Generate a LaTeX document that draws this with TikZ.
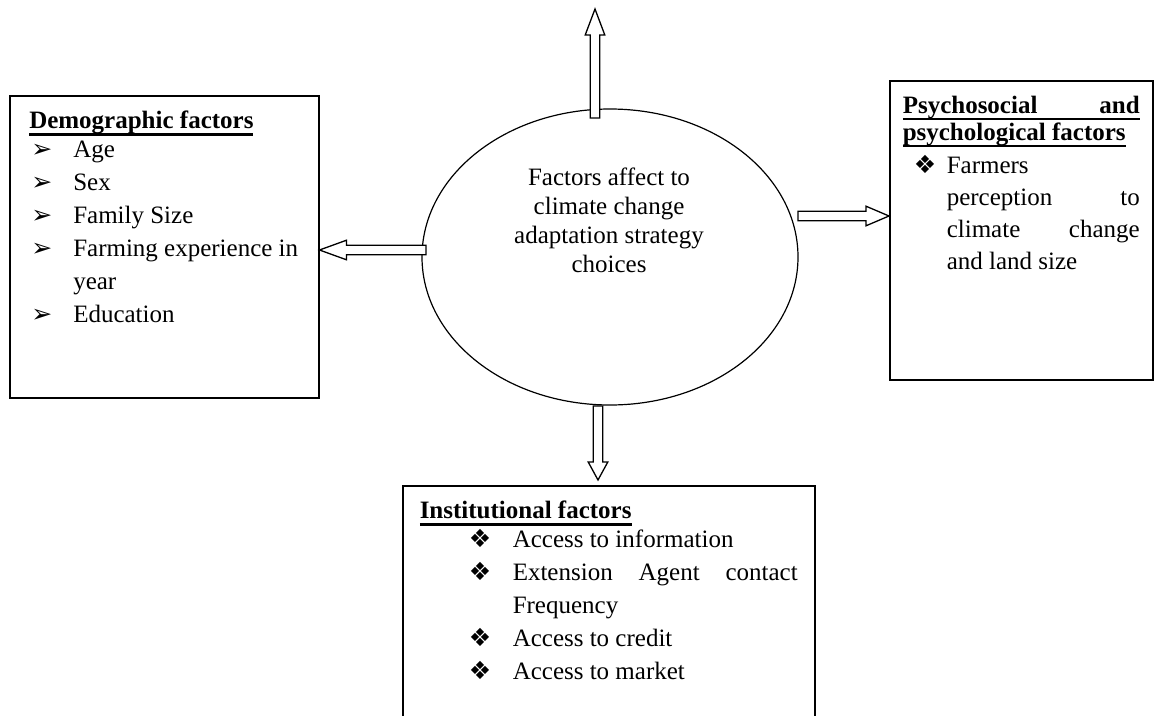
\documentclass[tikz,border=0pt]{standalone}
\usepackage{fontspec}
\setmainfont{Liberation Serif}
\newfontfamily\dingfont{DejaVu Sans}
\usetikzlibrary{shapes.geometric,calc}

\newcommand\bodyfont{\fontsize{25}{33}\selectfont}
\newsavebox\headsave
\newcommand\headline[1]{\leavevmode\sbox\headsave{\textbf{#1}}\rlap{\usebox\headsave}\rule[-6.8pt]{\wd\headsave}{2.6pt}}
\newcommand\arrowbul{{\dingfont\fontsize{25}{25}\selectfont ➢}}
\newcommand\diambul{{\dingfont\fontsize{25}{25}\selectfont ❖}}
% indent, bullet box width, bullet, text
\newcommand\bulitem[4]{\par\hspace*{#1}\makebox[#2][l]{#3}#4}

% hollow block arrow: [head length]{from}{to}
\newcommand\blockarrow[3][24pt]{%
  \coordinate (hb) at ($(#3)!#1!(#2)$);
  \draw[blockarr] ($(#2)!4.8pt!90:(#3)$) -- ($(hb)!4.8pt!-90:(#2)$) -- ($(hb)!9.8pt!-90:(#2)$)
    -- (#3) -- ($(hb)!9.8pt!90:(#2)$) -- ($(hb)!4.8pt!90:(#2)$) -- ($(#2)!4.8pt!-90:(#3)$) -- cycle;}

\begin{document}
\begin{tikzpicture}[x=1pt,y=-1pt]
  \tikzset{
    factorbox/.style={draw,line width=1.5pt,anchor=north west,inner xsep=17pt,inner ysep=15.5pt,font=\bodyfont},
    centreoval/.style={ellipse,draw,line width=1.2pt,minimum width=376pt,minimum height=296pt,inner sep=0pt},
    blockarr/.style={draw,fill=white,line width=1.3pt,line join=miter}
  }
  \useasboundingbox (0,0) rectangle (1154,715);
  \clip (0,0) rectangle (1154,715);

  \node[centreoval] (core) at (610,257) {};
  \node[font={\fontsize{25}{29}\selectfont},align=center] (coretxt) at (609,220)
    {Factors affect to\\climate change\\adaptation strategy\\choices};

  % demographic
  \node[factorbox,inner xsep=19.5pt] (demo) at (9,95) {\parbox[t][271pt][t]{270pt}{%
    \headline{Demographic factors}\par\vspace{-4pt}
    \bulitem{2pt}{42pt}{\arrowbul}{Age}
    \bulitem{2pt}{42pt}{\arrowbul}{Sex}
    \bulitem{2pt}{42pt}{\arrowbul}{Family Size}
    \bulitem{2pt}{42pt}{\arrowbul}{\mbox{Farming experience in}}\\\hspace*{44pt}year
    \bulitem{2pt}{42pt}{\arrowbul}{Education}\par}};

  % psychosocial
  \node[factorbox,inner xsep=13pt] (psy) at (889,80) {\parbox[t][268pt][t]{237pt}{%
    \setlength\baselineskip{32pt}%
    \headline{\makebox[237pt][s]{Psychosocial and}}\par\vspace{-5pt}
    \headline{psychological factors}\par\vspace{1pt}
    \bulitem{11pt}{33pt}{\diambul}{Farmers}\\
    \hspace*{44pt}\makebox[193pt][s]{perception to}\\
    \hspace*{44pt}\makebox[193pt][s]{climate change}\\
    \hspace*{44pt}and land size\par}};

  % institutional
  \node[factorbox] (inst) at (402,485) {\parbox[t][225pt][t]{378pt}{%
    \headline{Institutional factors}\par\vspace{-4pt}
    \bulitem{49pt}{44pt}{\diambul}{Access to information}
    \bulitem{49pt}{44pt}{\diambul}{\makebox[285pt][s]{Extension Agent contact}}\\\hspace*{93pt}Frequency
    \bulitem{49pt}{44pt}{\diambul}{Access to credit}
    \bulitem{49pt}{44pt}{\diambul}{Access to market}\par}};

  % arrows out of the oval
  \coordinate (up0) at (595,118);
  \coordinate (up1) at (595,9);
  \coordinate (dn0) at (598,406);
  \coordinate (dn1) at (598,480);
  \coordinate (lf0) at (426,250);
  \coordinate (lf1) at (demo.east |- lf0);
  \coordinate (rt0) at (798,216);
  \coordinate (rt1) at (psy.west |- rt0);

  \blockarrow[26pt]{up0}{up1}
  \blockarrow[18pt]{dn0}{dn1}
  \blockarrow[27pt]{lf0}{lf1}
  \blockarrow[23pt]{rt0}{rt1}
\end{tikzpicture}
\end{document}
